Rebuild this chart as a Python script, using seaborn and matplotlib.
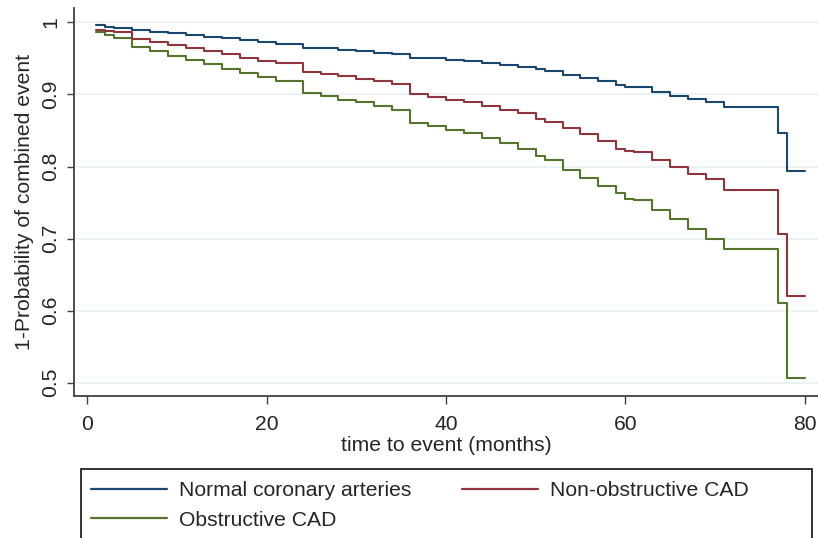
import numpy as np
import pandas as pd
import matplotlib
matplotlib.use("Agg")
import matplotlib.pyplot as plt
from matplotlib.patches import Rectangle
import seaborn as sns

# step times (months)
months = [1, 2, 3, 5, 7, 9, 11, 13, 15, 17, 19, 21, 24, 26, 28, 30, 32, 34, 36, 38,
          40, 42, 44, 46, 48, 50, 51, 53, 55, 57, 59, 60, 61, 63, 65, 67, 69, 71, 77, 78, 80]

normal = [0.996, 0.994, 0.992, 0.989, 0.987, 0.985, 0.983, 0.980, 0.978, 0.976, 0.973,
          0.970, 0.965, 0.964, 0.962, 0.960, 0.958, 0.956, 0.951, 0.950, 0.948, 0.946,
          0.944, 0.941, 0.938, 0.935, 0.933, 0.927, 0.923, 0.919, 0.913, 0.911, 0.910,
          0.903, 0.898, 0.894, 0.889, 0.882, 0.847, 0.794, 0.794]

non_obstructive = [0.990, 0.988, 0.986, 0.977, 0.973, 0.969, 0.964, 0.960, 0.956, 0.951,
                   0.947, 0.943, 0.931, 0.928, 0.925, 0.922, 0.918, 0.914, 0.901, 0.897,
                   0.893, 0.889, 0.884, 0.879, 0.874, 0.866, 0.862, 0.853, 0.845, 0.836,
                   0.825, 0.822, 0.820, 0.809, 0.800, 0.790, 0.782, 0.768, 0.707, 0.620, 0.620]

obstructive = [0.987, 0.983, 0.979, 0.966, 0.960, 0.954, 0.948, 0.942, 0.936, 0.930,
               0.924, 0.918, 0.902, 0.898, 0.893, 0.889, 0.884, 0.878, 0.861, 0.856,
               0.851, 0.846, 0.840, 0.833, 0.825, 0.815, 0.809, 0.795, 0.784, 0.773,
               0.763, 0.755, 0.754, 0.740, 0.727, 0.713, 0.700, 0.686, 0.610, 0.506, 0.506]

group_names = ["Normal coronary arteries", "Obstructive CAD", "Non-obstructive CAD"]
x_ticks = [0, 20, 40, 60, 80]
y_ticks = [0.5, 0.6, 0.7, 0.8, 0.9, 1.0]
y_tick_labels = ["0.5", "0.6", "0.7", "0.8", "0.9", "1"]

df = pd.concat([
    pd.DataFrame({"time": months, "surv": normal, "group": group_names[0]}),
    pd.DataFrame({"time": months, "surv": obstructive, "group": group_names[1]}),
    pd.DataFrame({"time": months, "surv": non_obstructive, "group": group_names[2]}),
])

sns.set_theme(style="white")
plt.rcParams["font.family"] = ["Liberation Sans", "DejaVu Sans"]

palette = {group_names[0]: "#1a476f", group_names[1]: "#55752f", group_names[2]: "#90353b"}
fs = 15.2

fig = plt.figure(figsize=(8.18, 5.38), dpi=100)
ax = fig.add_axes([74 / 818, 142 / 538, 744 / 818, 388 / 538])

sns.lineplot(data=df, x="time", y="surv", hue="group", hue_order=group_names,
             palette=palette, estimator=None, drawstyle="steps-post",
             linewidth=1.5, ax=ax, legend=False)

ax.set_xlim(-1.5, 81.5)
ax.set_ylim(0.4815, 1.02)
ax.set_xticks(x_ticks)
ax.set_yticks(y_ticks)
ax.set_yticklabels(y_tick_labels, rotation=90, va="center")
ax.tick_params(axis="x", length=6, width=1, color="#404040", pad=8, labelsize=fs, bottom=True)
ax.tick_params(axis="y", length=5, width=1, color="#404040", pad=5, labelsize=fs, left=True)
ax.yaxis.grid(True, color="#e6eff1", linewidth=1.1)
ax.xaxis.grid(False)
for side in ["top", "right"]:
    ax.spines[side].set_visible(False)
for side in ["left", "bottom"]:
    ax.spines[side].set_color("#404040")
    ax.spines[side].set_linewidth(1.3)

ax.set_xlabel("time to event (months)", fontsize=fs, labelpad=1)
ax.set_ylabel("1-Probability of combined event", fontsize=fs, labelpad=5)

handles = [plt.Line2D([], [], color=palette[g], linewidth=1.6) for g in group_names]
fig.legend(handles, group_names, ncol=2, loc="upper left",
           bbox_to_anchor=(91 / 818, 1 - 481 / 538), frameon=False,
           fontsize=fs, handlelength=3.6, handletextpad=0.57, columnspacing=2.4,
           labelspacing=0.5, borderpad=0, borderaxespad=0)
fig.patches.append(Rectangle((81 / 818, -0.05), 731 / 818, 69 / 538 + 0.05,
                             transform=fig.transFigure, fill=False,
                             edgecolor="#222222", linewidth=1.3))

fig.savefig("out.png", dpi=100)
